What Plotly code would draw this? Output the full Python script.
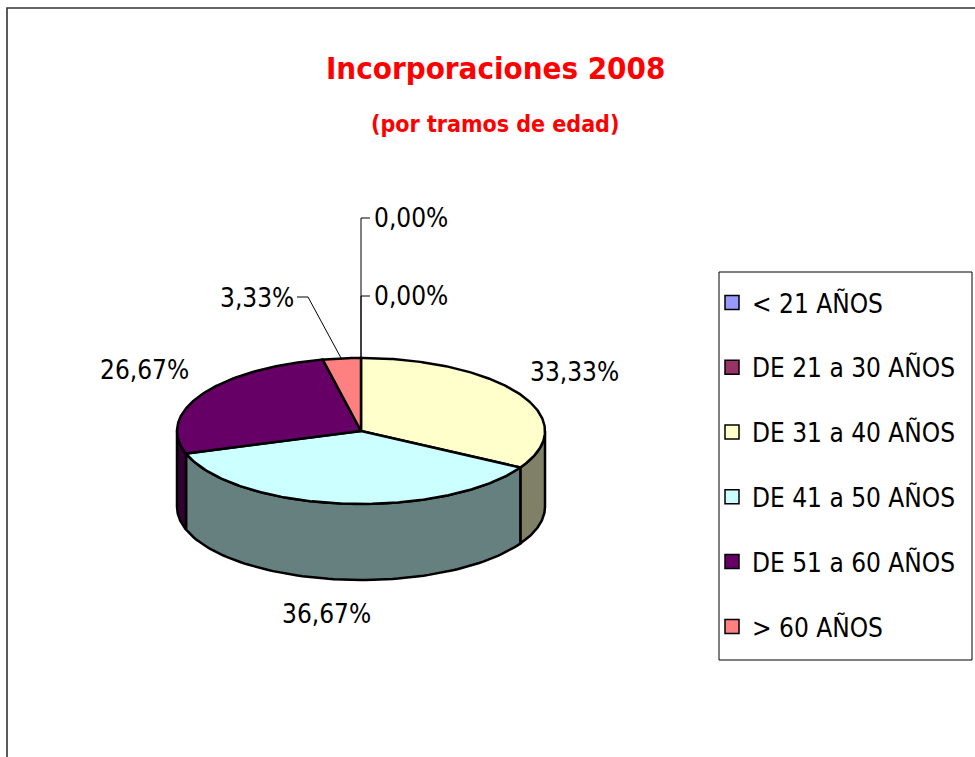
import numpy as np
import plotly.graph_objects as go

# ---------------- data ----------------
categories = ["< 21 AÑOS", "DE 21 a 30 AÑOS", "DE 31 a 40 AÑOS",
              "DE 41 a 50 AÑOS", "DE 51 a 60 AÑOS", "> 60 AÑOS"]
values = [0, 0, 10, 11, 8, 1]          # people per age band (0%, 0%, 33.33%, 36.67%, 26.67%, 3.33%)
top_colors = ["#9999FF", "#993366", "#FFFFCC", "#CCFFFF", "#660066", "#FF8080"]
side_colors = ["#666699", "#4D1A33", "#808066", "#668080", "#330033", "#804040"]
title_text = "Incorporaciones 2008"
subtitle_text = "(por tramos de edad)"

# ---------------- layout constants (pixels) ----------------
W, H = 975, 757
CX, CY, RX, RY, DEPTH = 361, 431, 184, 73, 76
FONT = "Liberation Sans Narrow, Arial Narrow, DejaVu Sans Condensed, sans-serif"
label_pos = {categories[0]: (411, 218), categories[1]: (411, 296),
             categories[2]: (574, 372), categories[3]: (326, 614),
             categories[4]: (144, 370), categories[5]: (257, 298)}

total = sum(values)
fracs = [v / total for v in values]
bounds = np.concatenate([[0], np.cumsum(fracs)]) * 360.0


def ell(theta_deg, dy=0.0):
    t = np.radians(theta_deg)
    return CX + RX * np.sin(t), CY - RY * np.cos(t) + dy


fig = go.Figure()

# side walls (front half only: 90..270 deg clockwise from top)
for i, cat in enumerate(categories):
    a0, a1 = bounds[i], bounds[i + 1]
    lo, hi = max(a0, 90.0), min(a1, 270.0)
    if hi <= lo:
        continue
    th = np.linspace(lo, hi, 80)
    xt, yt = ell(th)
    xb, yb = ell(th[::-1], DEPTH)
    xs = np.concatenate([xt, xb, xt[:1]])
    ys = np.concatenate([yt, yb, yt[:1]])
    fig.add_trace(go.Scatter(x=xs, y=ys, mode="lines", fill="toself",
                             fillcolor=side_colors[i],
                             line=dict(color="black", width=2.5),
                             hoverinfo="skip", showlegend=False))

# top faces
for i, cat in enumerate(categories):
    a0, a1 = bounds[i], bounds[i + 1]
    if a1 - a0 <= 0:
        continue
    th = np.linspace(a0, a1, max(int((a1 - a0) * 1.5), 6))
    xa, ya = ell(th)
    xs = np.concatenate([[CX], xa, [CX]])
    ys = np.concatenate([[CY], ya, [CY]])
    fig.add_trace(go.Scatter(x=xs, y=ys, mode="lines", fill="toself",
                             fillcolor=top_colors[i],
                             line=dict(color="black", width=2.5),
                             hoverinfo="skip", showlegend=False,
                             name=cat))

# legend-only entries
for i, cat in enumerate(categories):
    fig.add_trace(go.Scatter(x=[None], y=[None], mode="markers", name=cat,
                             legendgroup=cat,
                             marker=dict(symbol="square", size=14,
                                         color=top_colors[i],
                                         line=dict(color="black", width=1.5))))

# percentage labels
for i, cat in enumerate(categories):
    pct = fracs[i] * 100
    txt = f"{pct:.2f}".replace(".", ",") + "%"
    x, y = label_pos[cat]
    fig.add_annotation(x=x, y=y, text=txt, showarrow=False, xref="x", yref="y",
                       font=dict(family=FONT, size=26, color="black"))

# leader lines
top_y = CY - RY
for path in [f"M {CX},{top_y} L {CX},218 L 370,218",
             f"M {CX},{top_y} L {CX},296 L 370,296",
             f"M 341,{top_y} L 308,297 L 297,297"]:
    fig.add_shape(type="path", path=path, xref="x", yref="y",
                  line=dict(color="black", width=1))

# chart border
fig.add_shape(type="rect", xref="x", yref="y", x0=7, y0=8, x1=1000, y1=800,
              line=dict(color="#333333", width=1.6), layer="below")

# legend frame
fig.add_shape(type="rect", xref="x", yref="y", x0=719, y0=272, x1=972, y1=660,
              line=dict(color="black", width=1), layer="below")

# titles
fig.add_annotation(x=495, y=68, text=f"<b>{title_text}</b>", showarrow=False,
                   xref="x", yref="y", font=dict(family=FONT, size=31, color="#FF0000"))
fig.add_annotation(x=495, y=124, text=f"<b>{subtitle_text}</b>", showarrow=False,
                   xref="x", yref="y", font=dict(family=FONT, size=23, color="#FF0000"))

fig.update_layout(
    width=W, height=H,
    margin=dict(l=0, r=0, t=0, b=0, autoexpand=False),
    paper_bgcolor="white", plot_bgcolor="white",
    xaxis=dict(range=[0, W], visible=False, fixedrange=True),
    yaxis=dict(range=[H, 0], visible=False, fixedrange=True),
    showlegend=True,
    legend=dict(x=712 / W, y=1 - 279 / H, xanchor="left", yanchor="top",
                borderwidth=0, bgcolor="rgba(0,0,0,0)",
                font=dict(family=FONT, size=26, color="black"),
                tracegroupgap=28, traceorder="grouped"),
)

fig.write_html("out.html", config={"displayModeBar": False},
               post_script="document.body.style.margin='0';document.body.style.overflow='hidden';")
